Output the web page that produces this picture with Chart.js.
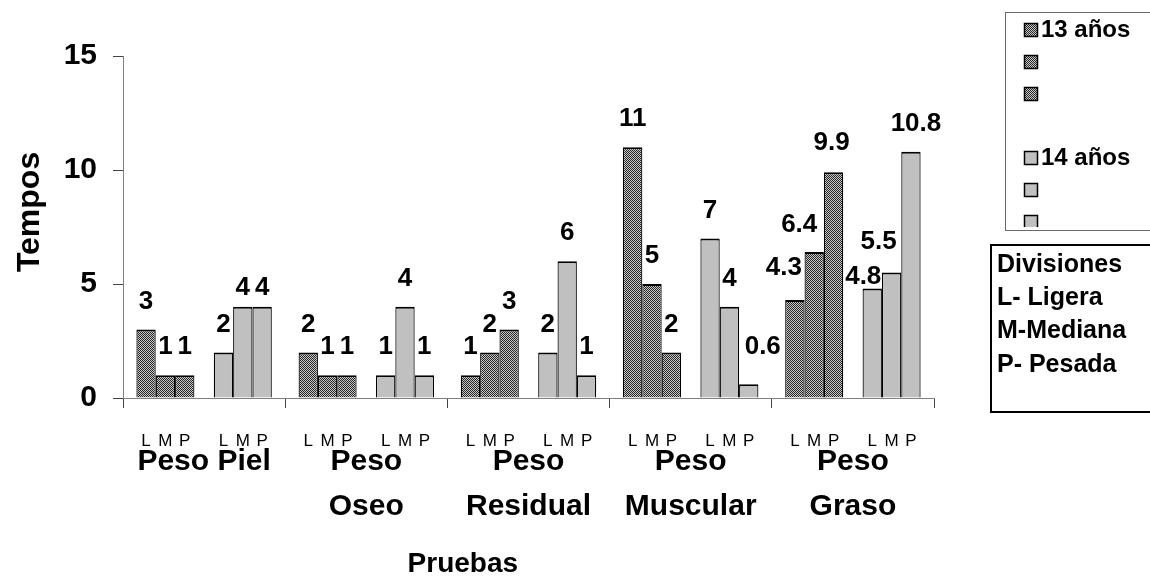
<!DOCTYPE html>
<html>
<head>
<meta charset="utf-8">
<script src="https://cdn.jsdelivr.net/npm/chart.js@4.4.1/dist/chart.umd.min.js"></script>
<style>
  html, body { margin: 0; padding: 0; background: #fff; }
  canvas { display: block; }
</style>
</head>
<body>
<canvas id="chart" width="1150" height="578"></canvas>
<script>
// Categories (tests) and the values for each age group and division
const categories = [['Peso Piel'], ['Peso', 'Oseo'], ['Peso', 'Residual'], ['Peso', 'Muscular'], ['Peso', 'Graso']];
const ageGroups = ['13 años', '14 años'];
const divisionLetters = ['L', 'M', 'P'];
const divisionNames = ['L- Ligera', 'M-Mediana', 'P- Pesada'];
const age13Ligera  = [3, 2, 1, 11, 4.3];
const age13Mediana = [1, 1, 2, 5, 6.4];
const age13Pesada  = [1, 1, 3, 2, 9.9];
const age14Ligera  = [2, 1, 2, 7, 4.8];
const age14Mediana = [4, 4, 6, 4, 5.5];
const age14Pesada  = [4, 1, 1, 0.6, 10.8];
const yTicks = [0, 5, 10, 15];
const xTitle = 'Pruebas';
const yTitle = 'Tempos';

const FONT = "'Liberation Sans', Arial, Helvetica, sans-serif";
Chart.defaults.font.family = FONT;
Chart.defaults.color = '#000';

// Fine stipple fill used for the 13-year-old bars
function makeStipple() {
  const c = document.createElement('canvas');
  c.width = 2; c.height = 2;
  const g = c.getContext('2d');
  g.fillStyle = '#c8c8c8';
  g.fillRect(0, 0, 2, 2);
  g.fillStyle = '#262626';
  g.fillRect(0, 0, 1, 1);
  g.fillRect(1, 1, 1, 1);
  return g.createPattern(c, 'repeat');
}
const stipple = makeStipple();
const lightGray = '#c0c0c0';

const barBorder = { top: 2, left: 1.2, right: 1.2, bottom: 0 };
function series(label, group, division, data, fill) {
  return {
    label, group, division, data,
    backgroundColor: fill,
    borderColor: '#000',
    borderWidth: barBorder,
    borderSkipped: false,
    categoryPercentage: 0.835,
    barPercentage: 1.0
  };
}

const datasets = [
  series('13 años L', ageGroups[0], divisionLetters[0], age13Ligera, stipple),
  series('13 años M', ageGroups[0], divisionLetters[1], age13Mediana, stipple),
  series('13 años P', ageGroups[0], divisionLetters[2], age13Pesada, stipple),
  // empty slot that separates the two age groups inside each test
  { label: '', spacer: true, data: categories.map(() => null), categoryPercentage: 0.835, barPercentage: 1.0 },
  series('14 años L', ageGroups[1], divisionLetters[0], age14Ligera, lightGray),
  series('14 años M', ageGroups[1], divisionLetters[1], age14Mediana, lightGray),
  series('14 años P', ageGroups[1], divisionLetters[2], age14Pesada, lightGray)
];

// Value labels sit 28px above the bar top; a few are nudged apart where they crowd
const labelGap = 28;
const labelNudge = {
  '14 años M|0': [0, 9], '14 años P|0': [0, 9],
  '14 años P|3': [14, -9],
  '13 años L|4': [-11, -4], '13 años M|4': [-15, 1], '13 años P|4': [-2, -1],
  '14 años L|4': [-9, 16], '14 años M|4': [-13, -3], '14 años P|4': [5, 0]
};
const valueLabels = {
  id: 'valueLabels',
  afterDatasetsDraw(chart) {
    const ctx = chart.ctx;
    ctx.save();
    ctx.font = `bold 26px ${FONT}`;
    ctx.fillStyle = '#000';
    ctx.textAlign = 'center';
    ctx.textBaseline = 'middle';
    chart.data.datasets.forEach((ds, di) => {
      if (ds.spacer) return;
      chart.getDatasetMeta(di).data.forEach((bar, i) => {
        const v = ds.data[i];
        if (v == null) return;
        const [dx, dy] = labelNudge[ds.label + '|' + i] || [0, 0];
        ctx.fillText(String(v), bar.x + dx, bar.y - labelGap + dy);
      });
    });
    ctx.restore();
  }
};

// Division letter (L / M / P) under each bar, plus the two axis titles
const divisionRow = {
  id: 'divisionRow',
  afterDraw(chart) {
    const ctx = chart.ctx;
    const area = chart.chartArea;
    ctx.save();
    ctx.font = `17px ${FONT}`;
    ctx.fillStyle = '#000';
    ctx.textAlign = 'center';
    ctx.textBaseline = 'middle';
    const y = area.bottom + 43;
    chart.data.datasets.forEach((ds, di) => {
      if (ds.spacer) return;
      chart.getDatasetMeta(di).data.forEach(bar => ctx.fillText(ds.division, bar.x, y));
    });
    // axis titles
    ctx.font = `bold 28px ${FONT}`;
    ctx.fillText(xTitle, area.left + (area.right - area.left) * 0.419, 564);
    ctx.save();
    ctx.translate(30, area.top + (area.bottom - area.top) * 0.456);
    ctx.rotate(-Math.PI / 2);
    ctx.font = `bold 32px ${FONT}`;
    ctx.fillText(yTitle, 0, 0);
    ctx.restore();
    ctx.restore();
  }
};

// Age-group legend and the division key, on the right
const sideBoxes = {
  id: 'sideBoxes',
  afterDraw(chart) {
    const ctx = chart.ctx;
    ctx.save();
    // age legend box
    ctx.strokeStyle = '#6a6a6a';
    ctx.lineWidth = 1;
    ctx.strokeRect(1005.5, 12.5, 200, 218);
    ctx.save();
    ctx.beginPath();
    ctx.rect(1006, 13, 160, 214);
    ctx.clip();
    ctx.font = `bold 24px ${FONT}`;
    ctx.textBaseline = 'middle';
    ctx.textAlign = 'left';
    let row = 0;
    let prevGroup = null;
    chart.data.datasets.forEach(ds => {
      if (ds.spacer) { row += 1; return; }
      const cy = 30 + row * 32;
      ctx.fillStyle = ds.backgroundColor;
      ctx.fillRect(1024, cy - 7, 14, 14);
      ctx.strokeStyle = '#000';
      ctx.lineWidth = 1.5;
      ctx.strokeRect(1024.5, cy - 6.5, 13, 13);
      if (ds.group !== prevGroup) {
        ctx.fillStyle = '#000';
        ctx.fillText(ds.group, 1041, cy);
      }
      prevGroup = ds.group;
      row += 1;
    });
    ctx.restore();
    // division key box
    ctx.strokeStyle = '#000';
    ctx.lineWidth = 2;
    ctx.strokeRect(991, 245, 200, 167);
    ctx.font = `bold 25px ${FONT}`;
    ctx.fillStyle = '#000';
    ctx.textBaseline = 'middle';
    ctx.textAlign = 'left';
    ['Divisiones'].concat(divisionNames).forEach((t, i) => {
      ctx.fillText(t, 997, 265 + i * 33.3);
    });
    ctx.restore();
  }
};

new Chart(document.getElementById('chart'), {
  type: 'bar',
  data: { labels: categories, datasets },
  options: {
    responsive: false,
    animation: false,
    devicePixelRatio: 1,
    layout: { padding: { top: 56, right: 216, left: 0, bottom: 0 } },
    plugins: { legend: { display: false }, tooltip: { enabled: false } },
    scales: {
      x: {
        grid: { offset: true, drawOnChartArea: false, tickLength: 10, color: '#444', lineWidth: 1 },
        border: { color: '#808080', width: 1 },
        ticks: {
          font: { size: 30, weight: 'bold', lineHeight: 1.5 },
          color: '#000', padding: 31, maxRotation: 0, autoSkip: false
        },
        afterFit(scale) { scale.height = 180; }
      },
      y: {
        min: 0, max: 15,
        afterBuildTicks(scale) { scale.ticks = yTicks.map(v => ({ value: v })); },
        grid: { drawOnChartArea: false, tickLength: 10, color: '#444', lineWidth: 1 },
        border: { color: '#808080', width: 1 },
        ticks: { font: { size: 30, weight: 'bold' }, color: '#000', padding: 16 },
        afterFit(scale) { scale.width = 123; }
      }
    }
  },
  plugins: [valueLabels, divisionRow, sideBoxes]
});
</script>
</body>
</html>
